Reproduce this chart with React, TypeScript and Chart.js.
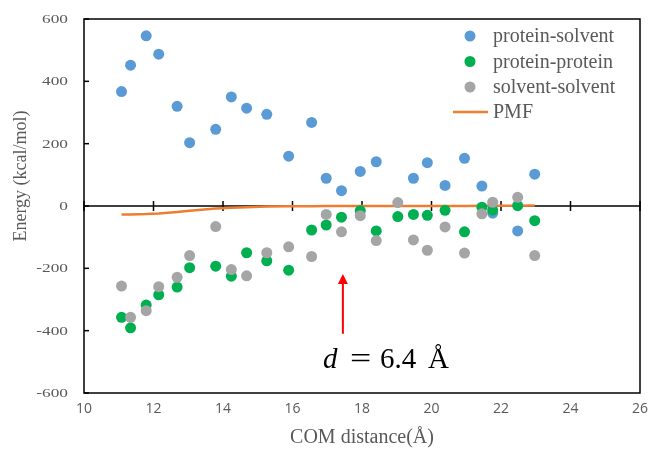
import React, { useEffect, useRef } from "react";
import { Chart, registerables } from "chart.js";

Chart.register(...registerables);

const distances = [11.08, 11.34, 11.79, 12.15, 12.68, 13.04, 13.79, 14.24, 14.68, 15.26, 15.89, 16.55, 16.97, 17.41, 17.95, 18.41, 19.03, 19.48, 19.88, 20.39, 20.95, 21.45, 21.76, 22.48, 22.97];
const proteinSolvent = [367, 452, 546, 487, 320, 203, 246, 350, 314, 294, 160, 268, 89, 49, 111, 142, null, 89, 139, 66, 153, 64, -23, -80, 102];
const proteinProtein = [-357, -391, -318, -285, -260, -198, -193, -225, -150, -176, -206, -77, -61, -36, -15, -80, -34, -27, -30, -14, -83, -4, -13, 1, -47];
const solventSolvent = [-257, -357, -336, -259, -229, -159, -66, -204, -224, -150, -131, -162, -27, -83, -31, -111, 11, -109, -142, -67, -151, -25, 12, 28, -159];
const pmf = [-27, -27, -26, -24, -19, -15, -8, -6, -4, -2, -1, -1, 0, 0, 0, 0, 0, 0, 0, 0, 0, 1, 1, 1, 2];

const xTickValues = [10, 12, 14, 16, 18, 20, 22, 24, 26];
const yTickValues = [-600, -400, -200, 0, 200, 400, 600];
const yTickLabels = ["-600", "-400", "-200", "0", "200", "400", "600"];
const seriesNames = ["protein-solvent", "protein-protein", "solvent-solvent", "PMF"];
const seriesColors = ["#5B9BD5", "#00B050", "#A5A5A5", "#ED7D31"];
const arrowX = 17.45;
const arrowFrom = -410;
const arrowTo = -218;

const TEXT = "#595959";
const SERIF = '"Liberation Serif", "Times New Roman", serif';
const SANS = '"Liberation Sans Narrow", "Open Sans", sans-serif';

function toPoints(ys: (number | null)[]) {
  return distances.map((x, i) => ({ x, y: ys[i] }));
}

const decorPlugin = {
  id: "decor",
  beforeDatasetsDraw(chart: any) {
    const { ctx, chartArea } = chart;
    const xs = chart.scales.x;
    const ys = chart.scales.y;
    ctx.save();
    ctx.strokeStyle = "#000";
    ctx.lineWidth = 1.5;
    ctx.strokeRect(chartArea.left, chartArea.top, chartArea.right - chartArea.left, chartArea.bottom - chartArea.top);
    // y ticks (inside) and labels
    ctx.font = `13px ${SERIF}`;
    ctx.fillStyle = TEXT;
    ctx.textAlign = "right";
    ctx.textBaseline = "middle";
    yTickValues.forEach((v, i) => {
      const y = ys.getPixelForValue(v);
      ctx.beginPath();
      ctx.moveTo(chartArea.left, y);
      ctx.lineTo(chartArea.left + 5, y);
      ctx.stroke();
      ctx.save();
      ctx.translate(chartArea.left - 16, y + 0.5);
      ctx.scale(1.33, 1);
      ctx.fillText(yTickLabels[i], 0, 0);
      ctx.restore();
    });
    // x axis at zero
    const y0 = ys.getPixelForValue(0);
    ctx.beginPath();
    ctx.moveTo(chartArea.left, y0);
    ctx.lineTo(chartArea.right, y0);
    ctx.stroke();
    xTickValues.forEach((v) => {
      const x = xs.getPixelForValue(v);
      ctx.beginPath();
      ctx.moveTo(x, y0 - 5);
      ctx.lineTo(x, y0 + 5);
      ctx.stroke();
    });
    ctx.restore();
  },
  afterDatasetsDraw(chart: any) {
    const { ctx } = chart;
    const xs = chart.scales.x;
    const ys = chart.scales.y;
    ctx.save();
    // arrow
    const ax = xs.getPixelForValue(arrowX);
    const ay1 = ys.getPixelForValue(arrowFrom);
    const ay2 = ys.getPixelForValue(arrowTo);
    ctx.strokeStyle = "#FF0000";
    ctx.fillStyle = "#FF0000";
    ctx.lineWidth = 2;
    ctx.beginPath();
    ctx.moveTo(ax, ay1);
    ctx.lineTo(ax, ay2 + 8);
    ctx.stroke();
    ctx.beginPath();
    ctx.moveTo(ax, ay2);
    ctx.lineTo(ax - 5, ay2 + 10);
    ctx.lineTo(ax + 5, ay2 + 10);
    ctx.closePath();
    ctx.fill();
    // annotation text
    ctx.fillStyle = "#000";
    ctx.textBaseline = "alphabetic";
    ctx.textAlign = "left";
    ctx.font = `italic 29px ${SERIF}`;
    ctx.fillText("d", 323, 368);
    ctx.font = `29px ${SERIF}`;
    ctx.save();
    ctx.translate(350, 368);
    ctx.scale(1.3, 1);
    ctx.fillText("=", 0, 0);
    ctx.restore();
    ctx.fillText("6.4", 380, 368);
    ctx.fillText("Å", 428, 368);
    // legend
    ctx.font = `20px ${SERIF}`;
    ctx.textBaseline = "middle";
    const rows = [36, 61.5, 87, 112];
    seriesNames.forEach((name, i) => {
      const y = rows[i];
      if (i < 3) {
        ctx.fillStyle = seriesColors[i];
        ctx.beginPath();
        ctx.arc(470, y, 5.5, 0, Math.PI * 2);
        ctx.fill();
      } else {
        ctx.strokeStyle = seriesColors[i];
        ctx.lineWidth = 2.5;
        ctx.beginPath();
        ctx.moveTo(453, y);
        ctx.lineTo(488, y);
        ctx.stroke();
      }
      ctx.fillStyle = TEXT;
      ctx.fillText(name, 493, y + 1);
    });
    // y title
    ctx.translate(21, 176);
    ctx.rotate(-Math.PI / 2);
    ctx.textAlign = "center";
    ctx.font = `18px ${SERIF}`;
    ctx.fillStyle = TEXT;
    ctx.fillText("Energy (kcal/mol)", 0, 0);
    ctx.restore();
  },
};

export default function App() {
  const ref = useRef<HTMLCanvasElement | null>(null);
  useEffect(() => {
    if (!ref.current) return;
    const chart = new Chart(ref.current, {
      type: "scatter",
      data: {
        datasets: [
          {
            label: seriesNames[2],
            data: toPoints(solventSolvent),
            backgroundColor: seriesColors[2],
            borderWidth: 0,
            pointRadius: 5.5,
            order: 0,
          },
          {
            label: seriesNames[1],
            data: toPoints(proteinProtein),
            backgroundColor: seriesColors[1],
            borderWidth: 0,
            pointRadius: 5.5,
            order: 1,
          },
          {
            label: seriesNames[0],
            data: toPoints(proteinSolvent),
            backgroundColor: seriesColors[0],
            borderWidth: 0,
            pointRadius: 5.5,
            order: 2,
          },
          {
            label: seriesNames[3],
            data: toPoints(pmf),
            showLine: true,
            borderColor: seriesColors[3],
            borderWidth: 2.5,
            pointRadius: 0,
            order: 3,
          } as any,
        ],
      },
      options: {
        responsive: false,
        animation: false,
        layout: { padding: { top: 19, right: 8, left: 0, bottom: 0 } },
        plugins: { legend: { display: false }, tooltip: { enabled: false } },
        scales: {
          x: {
            type: "linear",
            min: 10,
            max: 26,
            afterBuildTicks: (s: any) => {
              s.ticks = xTickValues.map((v) => ({ value: v }));
            },
            ticks: { color: TEXT, font: { family: SANS, size: 14 }, padding: 8, autoSkip: false, maxRotation: 0 },
            grid: { display: false, drawTicks: false },
            border: { display: false },
            title: {
              display: true,
              text: "COM distance(Å)",
              color: TEXT,
              font: { family: SERIF, size: 20, lineHeight: 1 },
              padding: { top: 0, bottom: 1 },
            },
            afterFit: (s: any) => {
              s.height = 56;
              s.paddingRight = 0;
              s.paddingLeft = 0;
            },
          },
          y: {
            min: -600,
            max: 600,
            afterBuildTicks: (s: any) => {
              s.ticks = yTickValues.map((v) => ({ value: v }));
            },
            ticks: { display: false },
            grid: { display: false, drawTicks: false },
            border: { display: false },
            afterFit: (s: any) => {
              s.width = 84;
              s.paddingTop = 0;
              s.paddingBottom = 0;
            },
          },
        },
      },
      plugins: [decorPlugin],
    });
    return () => chart.destroy();
  }, []);
  return (
    <div style={{ position: "absolute", left: 0, top: 0, width: 648, height: 449, background: "#fff" }}>
      <canvas ref={ref} width={648} height={449} style={{ display: "block" }} />
    </div>
  );
}
